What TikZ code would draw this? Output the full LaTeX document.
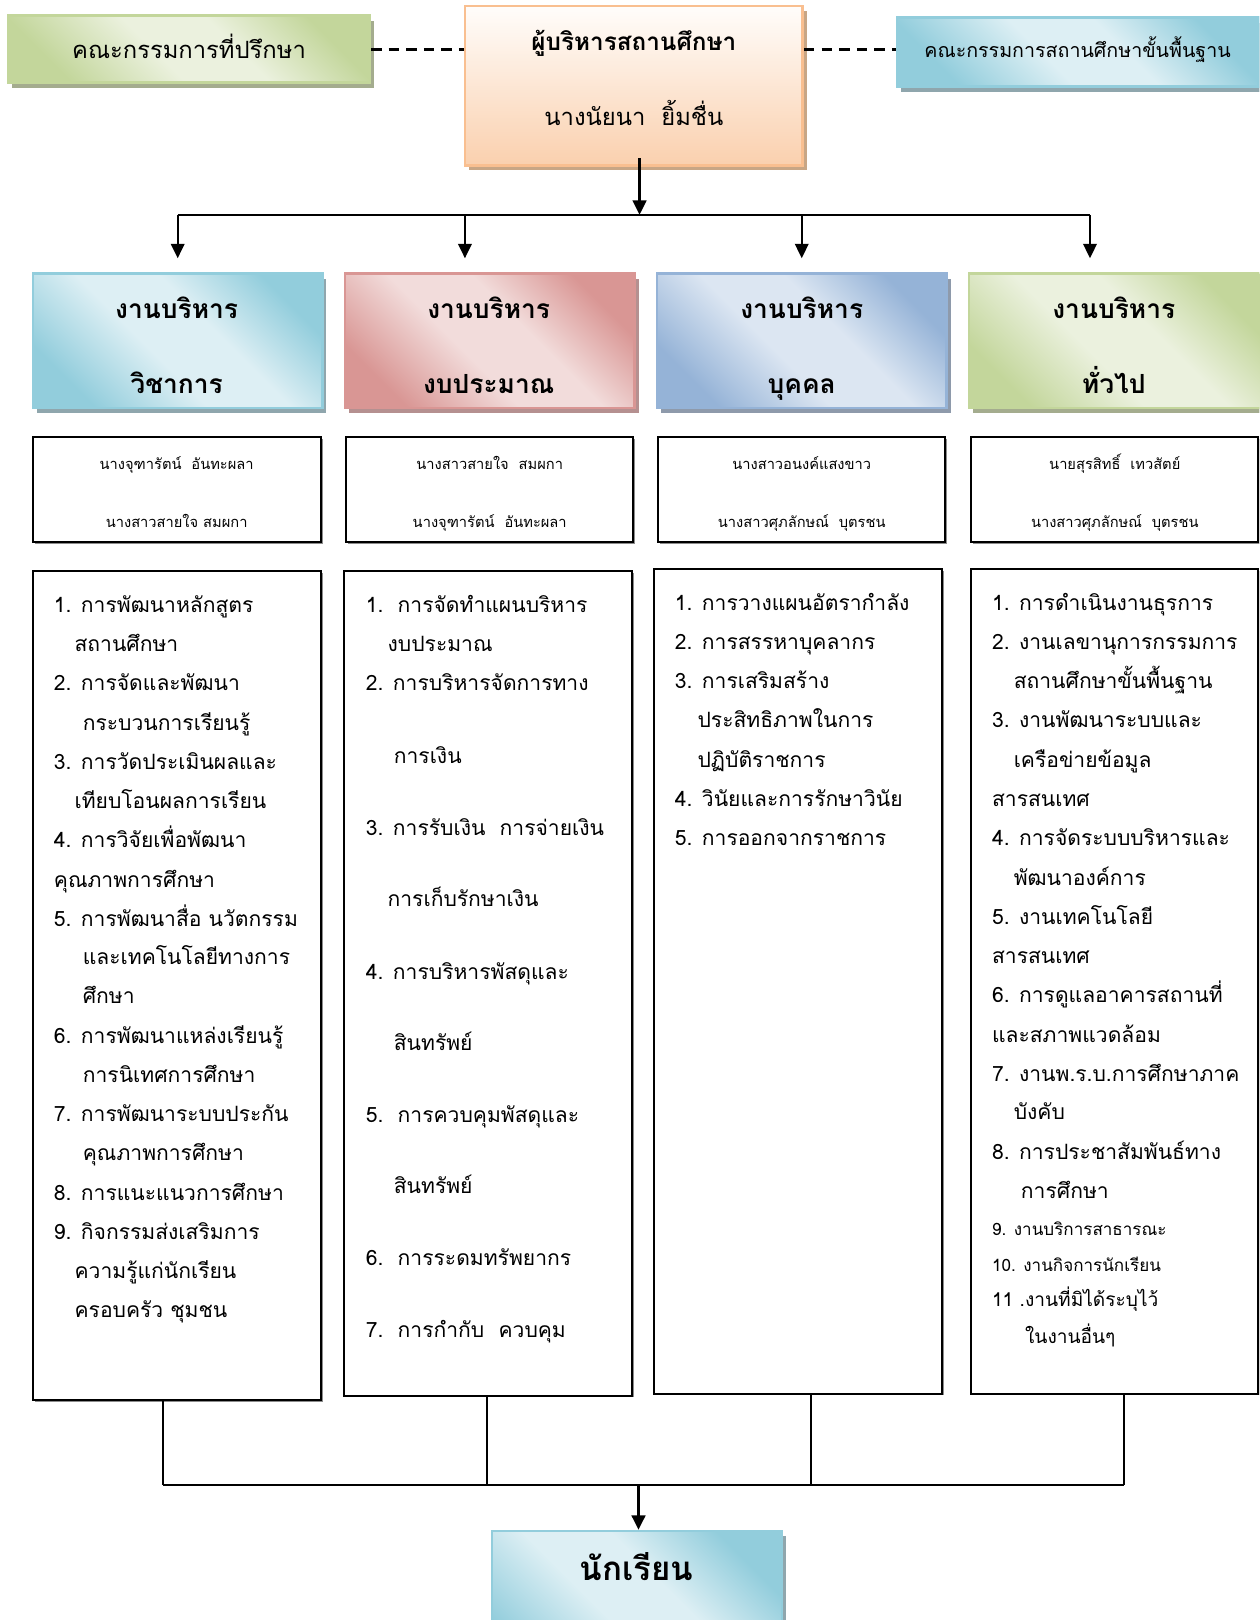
\documentclass[tikz,border=0pt]{standalone}
\usepackage{fontspec}
\setmainfont[Script=Thai]{Loma}
\usetikzlibrary{arrows.meta,shadows}
\definecolor{bluedk}{HTML}{92CDDC}
\definecolor{bluelt}{HTML}{DDEFF4}
\definecolor{bluesh}{HTML}{8FA6AD}
\definecolor{reddk}{HTML}{D99694}
\definecolor{redlt}{HTML}{F2DCDB}
\definecolor{redsh}{HTML}{B59090}
\definecolor{purdk}{HTML}{95B3D7}
\definecolor{purlt}{HTML}{DCE6F2}
\definecolor{pursh}{HTML}{8E9AAB}
\definecolor{grndk}{HTML}{C3D69B}
\definecolor{grnlt}{HTML}{EBF1DE}
\definecolor{grnsh}{HTML}{A4AC8E}
\definecolor{orgdk}{HTML}{FAD0AE}
\definecolor{orglt}{HTML}{FFFDFB}
\definecolor{orgbd}{HTML}{F9BF90}
\definecolor{orgsh}{HTML}{C8A685}
\pgfdeclarehorizontalshading{gblue}{100bp}{color(0bp)=(bluedk); color(25bp)=(bluedk); color(44bp)=(bluelt); color(58bp)=(bluelt); color(75bp)=(bluedk); color(100bp)=(bluedk)}
\pgfdeclarehorizontalshading{gred}{100bp}{color(0bp)=(reddk); color(25bp)=(reddk); color(44bp)=(redlt); color(58bp)=(redlt); color(75bp)=(reddk); color(100bp)=(reddk)}
\pgfdeclarehorizontalshading{gpur}{100bp}{color(0bp)=(purdk); color(25bp)=(purdk); color(44bp)=(purlt); color(58bp)=(purlt); color(75bp)=(purdk); color(100bp)=(purdk)}
\pgfdeclarehorizontalshading{ggrn}{100bp}{color(0bp)=(grndk); color(25bp)=(grndk); color(44bp)=(grnlt); color(58bp)=(grnlt); color(75bp)=(grndk); color(100bp)=(grndk)}
\tikzset{
  cbox/.style n args={3}{draw=#2, line width=2.5pt, shade, shading=#1, shading angle=45,
    general shadow={fill=#3, shadow xshift=4pt, shadow yshift=-5pt}, inner sep=0pt},
  dirbox/.style={draw=orgbd, line width=2.5pt, top color=orglt, bottom color=orgdk,
    general shadow={fill=orgsh, shadow xshift=4pt, shadow yshift=-5pt}, inner sep=0pt},
  wbox/.style={draw=black, line width=2pt, fill=white,
    general shadow={fill=black!45, shadow xshift=1.5pt, shadow yshift=-1.5pt}, inner sep=0pt},
  txt/.style={anchor=mid, inner sep=0pt},
  ttl/.style={txt, yshift=-6pt, font=\fontsize{25.5}{30}\selectfont\bfseries},
  nm/.style={txt, yshift=-2.5pt, font=\fontsize{14.2}{18}\selectfont},
  lst/.style={anchor=mid west, inner sep=0pt, yshift=-5pt, font=\fontsize{20.4}{25}\selectfont},
  lsts/.style={anchor=mid west, inner sep=0pt, yshift=-4pt, font=\fontsize{16.5}{20}\selectfont},
  lstm/.style={anchor=mid west, inner sep=0pt, yshift=-4pt, font=\fontsize{18.5}{22}\selectfont},
  conn/.style={line width=2pt},
  arr/.style={line width=2.2pt, -{Triangle[width=13pt,length=14pt]}},
  dsh/.style={line width=2.6pt, dash pattern=on 10pt off 7pt}
}
\begin{document}
\begin{tikzpicture}[x=1pt,y=-1pt]
\useasboundingbox (0,0) rectangle (1219,1568);
\clip (0,0) rectangle (1219,1568);
% top row
\node[cbox={ggrn}{grndk}{grnsh}, minimum width=350pt, minimum height=65pt] (adv) at (183,47.5) {};
\node[txt, yshift=-4pt, font=\fontsize{23}{28}\selectfont] (advt) at (183,50) {คณะกรรมการที่ปรึกษา};
\node[dirbox, minimum width=327pt, minimum height=154pt] (dir) at (613.5,83) {};
\node[txt, yshift=-4pt, font=\fontsize{23.5}{28}\selectfont\bfseries] (dirt1) at (613.5,42) {ผู้บริหารสถานศึกษา};
\node[txt, yshift=-5pt, font=\fontsize{23}{28}\selectfont] (dirt2) at (613.5,114) {นางนัยนา~~ยิ้มชื่น};
\node[cbox={gblue}{bluedk}{bluesh}, minimum width=350pt, minimum height=67pt] (bas) at (1043,50.5) {};
\node[txt, yshift=-3pt, font=\fontsize{19}{24}\selectfont] (bast) at (1043,50) {คณะกรรมการสถานศึกษาขั้นพื้นฐาน};
\coordinate (dl) at (0,48);
\draw[dsh] (adv.east |- dl) -- (dir.west |- dl);
\draw[dsh] (dir.east |- dl) -- (bas.west |- dl);
% connectors top
\coordinate (j0) at (619,208);
\coordinate (j1) at (172,208);
\coordinate (j2) at (450,208);
\coordinate (j3) at (776,208);
\coordinate (j4) at (1055,208);
\draw[line width=3pt, -{Triangle[width=13pt,length=14pt]}] (619,153) -- (j0);
\draw[conn] (j1) -- (j4);
% four boxes
\node[cbox={gblue}{bluedk}{bluesh}, minimum width=280pt, minimum height=130pt] (b1) at (172,330) {};
\node[cbox={gred}{reddk}{redsh}, minimum width=280pt, minimum height=130pt] (b2) at (474,330) {};
\node[cbox={gpur}{purdk}{pursh}, minimum width=280pt, minimum height=130pt] (b3) at (776,330) {};
\node[cbox={ggrn}{grndk}{grnsh}, minimum width=284pt, minimum height=130pt] (b4) at (1080,330) {};
\foreach \j/\xx in {j1/172,j2/450,j3/776,j4/1055}
  \draw[arr] (\j) -- (\xx,250);
\node[ttl] (t1a) at (171,300) {งานบริหาร};
\node[ttl] (t1b) at (171,372) {วิชาการ};
\node[ttl] (t2a) at (473,300) {งานบริหาร};
\node[ttl] (t2b) at (473,372) {งบประมาณ};
\node[ttl] (t3a) at (776,300) {งานบริหาร};
\node[ttl] (t3b) at (776,372) {บุคคล};
\node[ttl] (t4a) at (1078,300) {งานบริหาร};
\node[ttl] (t4b) at (1078,372) {ทั่วไป};
% name boxes
\node[wbox, minimum width=279pt, minimum height=102pt] (n1) at (171.5,474) {};
\node[wbox, minimum width=278pt, minimum height=102pt] (n2) at (474,474) {};
\node[wbox, minimum width=278pt, minimum height=102pt] (n3) at (776,474) {};
\node[wbox, minimum width=278pt, minimum height=102pt] (n4) at (1079,474) {};
\node[nm] (n1a) at (171,449) {นางจุฑารัตน์~~อันทะผลา};
\node[nm] (n1b) at (171,505) {นางสาวสายใจ สมผกา};
\node[nm] (n2a) at (474,449) {นางสาวสายใจ~~สมผกา};
\node[nm] (n2b) at (474,505) {นางจุฑารัตน์~~อันทะผลา};
\node[nm] (n3a) at (776,449) {นางสาวอนงค์แสงขาว};
\node[nm] (n3b) at (776,505) {นางสาวศุภลักษณ์~~บุตรชน};
\node[nm] (n4a) at (1079,449) {นายสุรสิทธิ์~~เทวสัตย์};
\node[nm] (n4b) at (1079,505) {นางสาวศุภลักษณ์~~บุตรชน};
% list boxes
\draw[wbox] (32,553) rectangle (311,1355);
\node[inner sep=0pt, minimum width=279pt, minimum height=802pt] (L1) at (171.5,954) {};
\draw[wbox] (333,553) rectangle (612,1351);
\node[inner sep=0pt, minimum width=279pt, minimum height=798pt] (L2) at (472.5,952) {};
\draw[wbox] (633,551) rectangle (912,1349);
\node[inner sep=0pt, minimum width=279pt, minimum height=798pt] (L3) at (772.5,950) {};
\draw[wbox] (940,551) rectangle (1218,1349);
\node[inner sep=0pt, minimum width=278pt, minimum height=798pt] (L4) at (1079,950) {};
% list texts col1
\foreach \x/\y/\t [count=\k] in {
 52/585/{1. การพัฒนาหลักสูตร}, 72/623/{สถานศึกษา},
 52/661/{2. การจัดและพัฒนา}, 80/699/{กระบวนการเรียนรู้},
 52/737/{3. การวัดประเมินผลและ}, 72/775/{เทียบโอนผลการเรียน},
 52/813/{4. การวิจัยเพื่อพัฒนา}, 52/851/{คุณภาพการศึกษา},
 52/889/{5. การพัฒนาสื่อ นวัตกรรม}, 80/926/{และเทคโนโลยีทางการ}, 80/964/{ศึกษา},
 52/1002/{6. การพัฒนาแหล่งเรียนรู้}, 80/1040/{การนิเทศการศึกษา},
 52/1078/{7. การพัฒนาระบบประกัน}, 80/1116/{คุณภาพการศึกษา},
 52/1154/{8. การแนะแนวการศึกษา},
 52/1192/{9. กิจกรรมส่งเสริมการ}, 72/1230/{ความรู้แก่นักเรียน}, 72/1268/{ครอบครัว ชุมชน}}
  \node[lst] (a\k) at (\x,\y) {\t};
% col2
\foreach \x/\y/\t [count=\k] in {
 354/585/{1.~~การจัดทำแผนบริหาร}, 375/623/{งบประมาณ},
 354/661/{2. การบริหารจัดการทาง}, 381/731/{การเงิน},
 354/801/{3. การรับเงิน~~การจ่ายเงิน}, 375/870/{การเก็บรักษาเงิน},
 354/940/{4. การบริหารพัสดุและ}, 381/1009/{สินทรัพย์},
 354/1079/{5.~~การควบคุมพัสดุและ}, 381/1148/{สินทรัพย์},
 354/1217/{6.~~การระดมทรัพยากร},
 354/1287/{7.~~การกำกับ~~ควบคุม}}
  \node[lst] (b\k) at (\x,\y) {\t};
% col3
\foreach \x/\y/\t [count=\k] in {
 653/583/{1. การวางแผนอัตรากำลัง}, 653/621/{2. การสรรหาบุคลากร},
 653/659/{3. การเสริมสร้าง}, 675/697/{ประสิทธิภาพในการ}, 675/735/{ปฏิบัติราชการ},
 653/773/{4. วินัยและการรักษาวินัย}, 653/811/{5. การออกจากราชการ}}
  \node[lst] (c\k) at (\x,\y) {\t};
% col4
\foreach \x/\y/\t [count=\k] in {
 960/583/{1. การดำเนินงานธุรการ},
 960/621/{2. งานเลขานุการกรรมการ}, 981/659/{สถานศึกษาขั้นพื้นฐาน},
 960/697/{3. งานพัฒนาระบบและ}, 981/735/{เครือข่ายข้อมูล}, 960/773/{สารสนเทศ},
 960/811/{4. การจัดระบบบริหารและ}, 981/849/{พัฒนาองค์การ},
 960/887/{5. งานเทคโนโลยี}, 960/925/{สารสนเทศ},
 960/963/{6. การดูแลอาคารสถานที่}, 960/1001/{และสภาพแวดล้อม},
 960/1039/{7. งานพ.ร.บ.การศึกษาภาค}, 981/1076/{บังคับ},
 960/1115/{8. การประชาสัมพันธ์ทาง}, 988/1152/{การศึกษา}}
  \node[lst] (d\k) at (\x,\y) {\t};
\node[lsts] (e1) at (960,1189) {9. งานบริการสาธารณะ};
\node[lsts] (e2) at (960,1224) {10. งานกิจการนักเรียน};
\node[lstm] (e3) at (960,1258) {11 .งานที่มิได้ระบุไว้};
\node[lstm] (e4) at (992,1294) {ในงานอื่นๆ};
% bottom connectors
\coordinate (k1) at (158,1437);
\coordinate (k2) at (471,1437);
\coordinate (k3) at (785,1437);
\coordinate (k4) at (1088,1437);
\coordinate (k0) at (618,1437);
\draw[conn] (L1.south -| k1) -- (k1);
\draw[conn] (L2.south -| k2) -- (k2);
\draw[conn] (L3.south -| k3) -- (k3);
\draw[conn] (L4.south -| k4) -- (k4);
\draw[conn] (k1) -- (k4);
\node[cbox={gblue}{bluedk}{bluesh}, minimum width=281pt, minimum height=150pt] (stu) at (616.5,1557) {};
\node[txt, yshift=-7pt, font=\fontsize{32}{36}\selectfont\bfseries] (stut) at (616,1520) {นักเรียน};
\draw[line width=3pt, -{Triangle[width=13pt,length=14pt]}] (k0) -- (stu.north -| k0);
\end{tikzpicture}
\end{document}
